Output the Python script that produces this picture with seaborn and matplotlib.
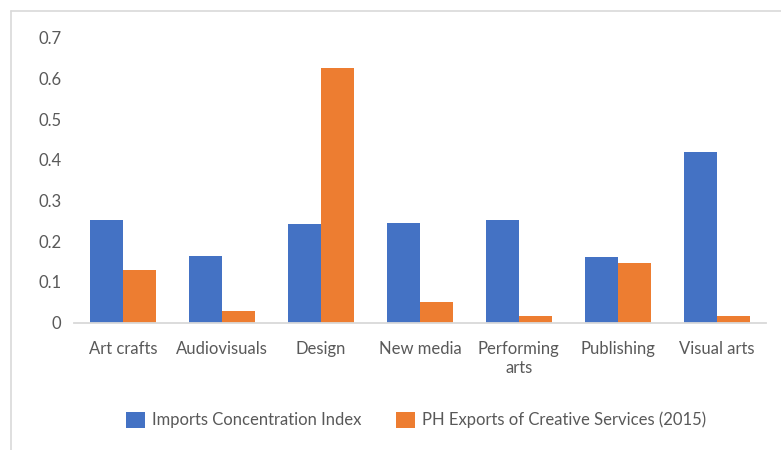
import matplotlib
matplotlib.use("Agg")
import matplotlib.pyplot as plt
from matplotlib.lines import Line2D
import seaborn as sns
import pandas as pd

categories = ["Art crafts", "Audiovisuals", "Design", "New media",
              "Performing\narts", "Publishing", "Visual arts"]
imports_index = [0.252, 0.163, 0.242, 0.245, 0.252, 0.161, 0.419]
ph_exports = [0.129, 0.028, 0.625, 0.050, 0.016, 0.146, 0.016]
series_names = ["Imports Concentration Index",
                "PH Exports of Creative Services (2015)"]
yticks = [0, 0.1, 0.2, 0.3, 0.4, 0.5, 0.6, 0.7]
ytick_labels = ["0", "0.1", "0.2", "0.3", "0.4", "0.5", "0.6", "0.7"]

df = pd.DataFrame({
    "category": categories * 2,
    "value": imports_index + ph_exports,
    "series": [series_names[0]] * len(categories) + [series_names[1]] * len(categories),
})

sns.set_theme(style="white")
plt.rcParams["font.family"] = ["Lato", "DejaVu Sans"]
text_color = "#595959"
palette = {series_names[0]: "#4472C4", series_names[1]: "#ED7D31"}

fig = plt.figure(figsize=(7.81, 4.5), dpi=100)
ax = fig.add_axes([74 / 781, 1 - 322.5 / 450, 692 / 781, (322.5 - 38) / 450])

sns.barplot(data=df, x="category", y="value", hue="series", palette=palette,
            width=2 / 3, gap=0, saturation=1, edgecolor="none", linewidth=0,
            ax=ax, legend=True)

ax.set_ylim(0, 0.7)
ax.set_xlim(-0.5, len(categories) - 0.5)
ax.set_yticks(yticks)
ax.set_yticklabels(ytick_labels)
ax.set_xlabel("")
ax.set_ylabel("")
ax.tick_params(axis="both", length=0, labelsize=12, colors=text_color)
ax.tick_params(axis="y", pad=9)
ax.tick_params(axis="x", pad=13)
for lbl in ax.get_xticklabels():
    lbl.set_linespacing(1.25)

for side in ["top", "right", "left"]:
    ax.spines[side].set_visible(False)
ax.spines["bottom"].set_color("#D9D9D9")
ax.spines["bottom"].set_linewidth(1.3)

handles, labels = ax.get_legend_handles_labels()
ax.get_legend().remove()
fig.legend(handles, labels, loc="center", bbox_to_anchor=(416 / 781, 1 - 420 / 450),
           ncol=2, frameon=False, fontsize=12, labelcolor=text_color,
           handlelength=1.15, handleheight=1.1, handletextpad=0.4,
           columnspacing=2.1)

# thin chart-area frame along the left and top edges
frame_color = "#D9D9D9"
fig.add_artist(Line2D([11 / 781, 11 / 781], [0, 1 - 11 / 450],
                      transform=fig.transFigure, color=frame_color, linewidth=1.2))
fig.add_artist(Line2D([11 / 781, 1], [1 - 11 / 450, 1 - 11 / 450],
                      transform=fig.transFigure, color=frame_color, linewidth=1.2))

fig.savefig("out.png", dpi=100, facecolor="white")
